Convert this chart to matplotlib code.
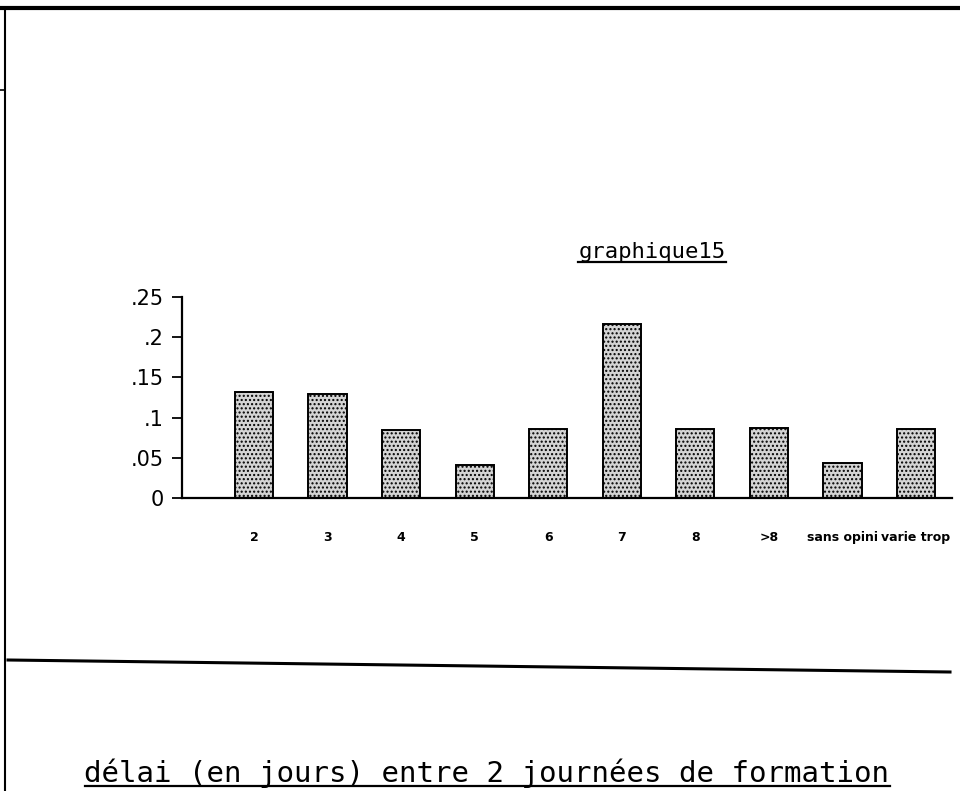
import matplotlib
matplotlib.use("Agg")
import matplotlib.pyplot as plt
from matplotlib.lines import Line2D
import numpy as np

# donnees
categories = ["2", "3", "4", "5", "6", "7", "8", ">8", "sans opini", "varie trop"]
valeurs = [0.132, 0.129, 0.085, 0.041, 0.086, 0.216, 0.086, 0.087, 0.043, 0.086]
yticks = [0, 0.05, 0.1, 0.15, 0.2, 0.25]
ytick_labels = ["0", ".05", ".1", ".15", ".2", ".25"]
titre = "graphique15"
legende_bas = "délai (en jours) entre 2 journées de formation"

W, H = 960, 791
fig = plt.figure(figsize=(W / 100, H / 100), dpi=100)
fig.patch.set_facecolor("white")

ax = fig.add_axes([182 / W, 1 - 498 / H, 770 / W, 201 / H])
xs = np.arange(len(categories))
ax.bar(xs, valeurs, width=0.52, color="#d4d4d4", edgecolor="black",
       linewidth=1.4, hatch="....")

ax.set_xlim(-0.98, 9.49)
ax.set_ylim(0, 0.25)
ax.spines["top"].set_visible(False)
ax.spines["right"].set_visible(False)
ax.spines["left"].set_linewidth(1.6)
ax.spines["bottom"].set_linewidth(1.6)

ax.set_yticks(yticks)
ax.set_yticklabels(ytick_labels, fontsize=15, family="DejaVu Sans")
ax.tick_params(axis="y", direction="out", length=7, width=1.3, pad=6)
ax.set_xticks(xs)
ax.set_xticklabels(categories, fontsize=9, fontweight="bold", family="DejaVu Sans")
ax.tick_params(axis="x", length=0, pad=24)

# titre souligne
t = fig.text(652 / W, 1 - 258 / H, titre, ha="center", va="baseline",
             fontsize=16, family="DejaVu Sans Mono")
# texte du bas souligne
b = fig.text(487 / W, 1 - 782 / H, legende_bas, ha="center", va="baseline",
             fontsize=21, family="DejaVu Sans Mono")

fig.canvas.draw()
r = fig.canvas.get_renderer()
for txt, dy in [(t, 4), (b, 4)]:
    bb = txt.get_window_extent(renderer=r)
    y0 = txt.get_position()[1] * H - dy
    fig.add_artist(Line2D([bb.x0 / W, bb.x1 / W], [y0 / H, y0 / H],
                          color="black", lw=1.6, transform=fig.transFigure))

# traits de la page scannee
traits = [
    ([0, 1], [1 - 8 / H, 1 - 8 / H], 3.0),
    ([5 / W, 5 / W], [0, 1 - 8 / H], 1.5),
    ([0, 5 / W], [1 - 90 / H, 1 - 90 / H], 1.2),
    ([8 / W, 950 / W], [1 - 660 / H, 1 - 672 / H], 2.2),
]
for x, y, lw in traits:
    fig.add_artist(Line2D(x, y, color="black", lw=lw, transform=fig.transFigure))

fig.savefig("out.png", dpi=100, facecolor="white")
